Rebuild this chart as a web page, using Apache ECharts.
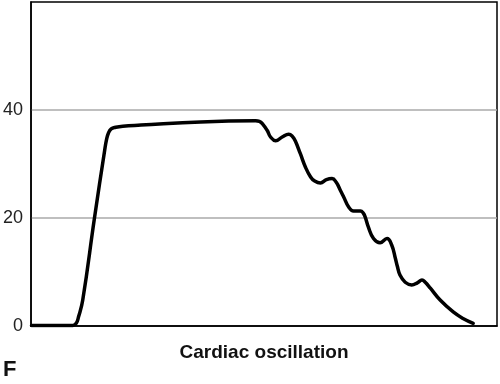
<!DOCTYPE html>
<html><head><meta charset="utf-8">
<script src="https://cdn.jsdelivr.net/npm/echarts@6/dist/echarts.min.js"></script>
<style>html,body{margin:0;padding:0;background:#fff}#c{width:500px;height:384px}</style>
</head><body><div id="c"></div>
<script>
const timePoints = [0.1,9.0,9.7,10.2,11.1,13.6,15.8,16.2,16.6,17.2,18.2,19.7,23.6,36.4,48.2,49.0,49.8,50.7,51.4,52.5,53.9,55.3,56.1,56.7,57.8,58.9,60.0,60.8,62.1,63.4,64.6,65.5,66.4,67.1,68.2,69.2,70.0,70.7,71.3,71.7,72.4,73.5,74.9,76.4,77.4,78.2,78.6,79.2,80.3,81.7,82.9,83.9,84.6,85.7,87.8,90.6,92.7,94.9];
const pressure = [0.1,0.1,0.5,1.7,4.8,19.9,32.5,34.5,35.7,36.5,36.8,37.0,37.2,37.8,38.0,37.9,37.3,36.2,35.0,34.3,35.0,35.5,35.1,34.3,31.9,29.4,27.6,26.9,26.5,27.1,27.3,26.6,25.1,23.9,22.0,21.3,21.3,21.3,20.9,20.2,18.3,16.2,15.4,16.2,15.0,12.5,11.1,9.4,8.1,7.6,8.0,8.5,8.1,7.0,4.8,2.6,1.4,0.5];
const yTicks = [0, 20, 40];
const xTitle = 'Cardiac oscillation';
const panelLabel = 'F';

const chart = echarts.init(document.getElementById('c'), null, {renderer:'canvas'});
chart.setOption({
  animation:false,
  backgroundColor:'#fff',
  grid:{left:30, right:3, top:2, bottom:58, show:true, borderColor:'#000', borderWidth:1.5, backgroundColor:'#fff'},
  xAxis:{type:'value', min:0, max:100,
    axisLine:{show:true, onZero:false, lineStyle:{color:'#000', width:1.5}},
    axisTick:{show:false}, axisLabel:{show:false}, splitLine:{show:false},
    name:xTitle, nameLocation:'middle', nameGap:17,
    nameTextStyle:{fontFamily:'Liberation Sans, Arial', fontWeight:'bold', fontSize:19, color:'#111'}},
  yAxis:{type:'value', min:0, max:60, interval:20,
    axisLine:{show:true, lineStyle:{color:'#000', width:1.5}},
    axisTick:{show:false},
    axisLabel:{fontFamily:'Liberation Sans, Arial', fontSize:18, color:'#222', margin:8,
      formatter:v => yTicks.indexOf(v) >= 0 ? String(v) : ''},
    splitLine:{show:true, showMinLine:false, showMaxLine:false, lineStyle:{color:'#aaa', width:1.5}}},
  graphic:[{type:'text', left:3, top:359, style:{text:panelLabel, font:'bold 22px "Liberation Sans", Arial', fill:'#111'}}],
  series:[{type:'line', data:timePoints.map((t,i)=>[t, pressure[i]]), showSymbol:false, smooth:0.45,
    lineStyle:{color:'#000', width:3.5, cap:'round', join:'round'}}]
});
</script></body></html>
